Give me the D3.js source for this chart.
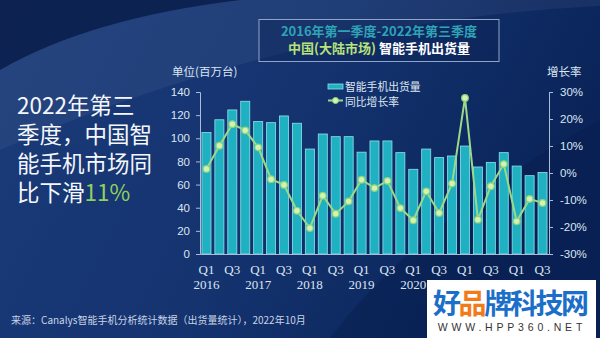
<!DOCTYPE html>
<html><head><meta charset="utf-8">
<script src="https://cdn.jsdelivr.net/npm/d3@7"></script>
<style>html,body{margin:0;padding:0;background:#102c66;overflow:hidden}</style>
</head><body><svg id="c" width="600" height="338"></svg>
<script>
const quarters = ["2016Q1","2016Q2","2016Q3","2016Q4","2017Q1","2017Q2","2017Q3","2017Q4","2018Q1","2018Q2","2018Q3","2018Q4","2019Q1","2019Q2","2019Q3","2019Q4","2020Q1","2020Q2","2020Q3","2020Q4","2021Q1","2021Q2","2021Q3","2021Q4","2022Q1","2022Q2","2022Q3"];
const shipments = [105, 116, 124.5, 132, 114.5, 113.5, 119.3, 113, 90.7, 103.7, 101.4, 101.4, 88, 97.7, 97.7, 87.6, 73.2, 90.7, 83.3, 84.7, 93.3, 75.2, 79.2, 87.6, 76, 67.7, 70.5];
const growth = [1.5, 10.1, 18.1, 15.8, 9.5, -2.3, -4.4, -14, -20.4, -8.4, -15.1, -10.5, -2.5, -5.6, -2.9, -13, -17.5, -6.8, -14.8, -3.9, 27.8, -17.3, -4.9, 3.3, -17.9, -9.6, -11.1];
const leftTicks = [0, 20, 40, 60, 80, 100, 120, 140];
const rightTicks = [-30, -20, -10, 0, 10, 20, 30];
const visibleYears = ["2016", "2017", "2018", "2019", "2020"];
const titleLine1 = "2016年第一季度-2022年第三季度";
const titleGreen = "中国(大陆市场)";
const titleWhite = " 智能手机出货量";
const leftUnit = "单位(百万台)";
const rightUnit = "增长率";
const legendBar = "智能手机出货量";
const legendLine = "同比增长率";
const headline = ["2022年第三", "季度，中国智", "能手机市场同", "比下滑"];
const headlineHi = "11%";
const source = "来源：Canalys智能手机分析统计数据（出货量统计），2022年10月";

const svg = d3.select("#c");
const CJK = "'Noto Sans CJK SC','Noto Sans',sans-serif";
const defs = svg.append("defs");
const bg = defs.append("linearGradient").attr("id","bg").attr("x1",0).attr("y1",0).attr("x2",1).attr("y2",0.3);
bg.append("stop").attr("offset",0).attr("stop-color","#1b3b7a");
bg.append("stop").attr("offset",0.55).attr("stop-color","#14336f");
bg.append("stop").attr("offset",1).attr("stop-color","#0a2459");
svg.append("rect").attr("width",600).attr("height",338).attr("fill","url(#bg)");
svg.append("path").attr("d","M0,0 L240,0 Q90,18 0,70 Z").attr("fill","#0b1e4a").attr("opacity",0.85);
svg.append("path").attr("d","M0,70 Q90,18 240,0 L600,0 L600,6 Q300,20 0,150 Z").attr("fill","#ffffff").attr("opacity",0.05);
svg.append("path").attr("d","M600,120 Q420,220 330,338 L600,338 Z").attr("fill","#061a48").attr("opacity",0.35);

const x = d3.scaleBand().domain(d3.range(quarters.length)).range([200,549]).paddingInner(0.3).paddingOuter(0.15);
const yL = d3.scaleLinear().domain([0,140]).range([254,92]);
const yR = d3.scaleLinear().domain([-30,30]).range([254,92]);

const axisColor = "#a9bcd8";
const labColor = "#dde6f2";
const gL = svg.append("g").attr("transform","translate(200,0)").call(d3.axisLeft(yL).tickValues(leftTicks).tickSize(4).tickPadding(6));
const gR = svg.append("g").attr("transform","translate(549,0)").call(d3.axisRight(yR).tickValues(rightTicks).tickSize(4).tickPadding(7).tickFormat(d=>d+"%"));
[gL,gR].forEach(g=>{
  g.selectAll("path,line").attr("stroke",axisColor);
  g.selectAll("text").attr("fill",labColor).style("font-family","'Liberation Sans',sans-serif").style("font-size","11.5px");
});

svg.append("g").selectAll("rect").data(shipments).join("rect")
  .attr("x",(d,i)=>x(i)).attr("width",x.bandwidth())
  .attr("y",d=>yL(d)).attr("height",d=>254-yL(d))
  .attr("fill","#1fb1c2").attr("stroke","#8ee2ea").attr("stroke-width",0.8);

const gX = svg.append("g").attr("transform","translate(0,254)").call(d3.axisBottom(x).tickSize(0).tickFormat(""));
gX.select("path").attr("stroke",axisColor);
const xl = svg.append("g").style("font-family","'Liberation Serif',serif").style("font-size","13px").attr("fill",labColor).attr("text-anchor","middle");
quarters.forEach((q,i)=>{
  if(i%2===0){
    const cx = x(i)+x.bandwidth()/2;
    xl.append("text").attr("x",cx).attr("y",274).text(q.slice(4));
    if(q.endsWith("Q1") && visibleYears.includes(q.slice(0,4))) xl.append("text").attr("x",cx).attr("y",289).text(q.slice(0,4));
  }
});

const line = d3.line().x((d,i)=>x(i)+x.bandwidth()/2).y(d=>yR(d));
svg.append("path").datum(growth).attr("d",line).attr("fill","none").attr("stroke","#9ad98a").attr("stroke-width",2);
svg.append("g").selectAll("circle").data(growth).join("circle")
  .attr("cx",(d,i)=>x(i)+x.bandwidth()/2).attr("cy",d=>yR(d)).attr("r",3.3)
  .attr("fill","#d2f3b4").attr("stroke","#8fd27c").attr("stroke-width",1.2);

svg.append("text").attr("x",172).attr("y",76).text(leftUnit).attr("fill",labColor).style("font-family",CJK).style("font-size","11.5px");
svg.append("text").attr("x",547).attr("y",76).text(rightUnit).attr("fill",labColor).style("font-family",CJK).style("font-size","11.5px");

// legend
svg.append("rect").attr("x",328).attr("y",84).attr("width",15).attr("height",5).attr("fill","#1fb1c2").attr("stroke","#8ee2ea").attr("stroke-width",0.8);
svg.append("line").attr("x1",328).attr("x2",343).attr("y1",100.5).attr("y2",100.5).attr("stroke","#9ad98a").attr("stroke-width",2);
svg.append("circle").attr("cx",335.5).attr("cy",100.5).attr("r",3).attr("fill","#d2f3b4").attr("stroke","#8fd27c");
svg.append("text").attr("x",345).attr("y",90.5).text(legendBar).attr("fill",labColor).style("font-family",CJK).style("font-size","10.8px");
svg.append("text").attr("x",345).attr("y",105.5).text(legendLine).attr("fill",labColor).style("font-family",CJK).style("font-size","10.8px");

// title box
svg.append("rect").attr("x",259).attr("y",19.5).attr("width",240).attr("height",42).attr("fill","#0c2456").attr("fill-opacity",0.4).attr("stroke","#8fa5c6").attr("stroke-width",1);
svg.append("text").attr("x",379).attr("y",35.5).attr("text-anchor","middle").text(titleLine1)
  .attr("fill","#2fa3b6").style("font-family",CJK).style("font-size","13px").style("font-weight","bold");
const t2 = svg.append("text").attr("x",379).attr("y",53).attr("text-anchor","middle").style("font-family",CJK).style("font-size","13px").style("font-weight","bold");
t2.append("tspan").text(titleGreen).attr("fill","#b8e27a");
t2.append("tspan").text(titleWhite).attr("fill","#ffffff").style("white-space","pre");

const hl = svg.append("g").style("font-family",CJK).style("font-size","22.5px").attr("fill","#f4f7fb");
headline.forEach((s,i)=>{
  const t = hl.append("text").attr("x",17).attr("y",114+i*29).text(s);
  if(i===headline.length-1) t.append("tspan").text(headlineHi).attr("fill","#8fd05c");
});

svg.append("text").attr("x",11).attr("y",324).text(source).attr("fill","#c9d4e6").style("font-family",CJK).style("font-size","10px");

svg.append("rect").attr("x",427).attr("y",280).attr("width",169).attr("height",58).attr("fill","#ffffff");
const wm = svg.append("text").attr("x",511).attr("y",314).attr("text-anchor","middle").style("font-family",CJK).style("font-size","28px").style("font-weight","bold").attr("textLength",156);
wm.append("tspan").text("好").attr("fill","#1b6fc8");
wm.append("tspan").text("品").attr("fill","#f07a1c");
wm.append("tspan").text("牌科技网").attr("fill","#1b6fc8");
svg.append("text").attr("x",512).attr("y",331).attr("text-anchor","middle").text("WWW.HPP360.NET").attr("fill","#333").style("font-family","'Liberation Sans',sans-serif").style("font-size","10.5px").style("letter-spacing","3.8px");
</script></body></html>
